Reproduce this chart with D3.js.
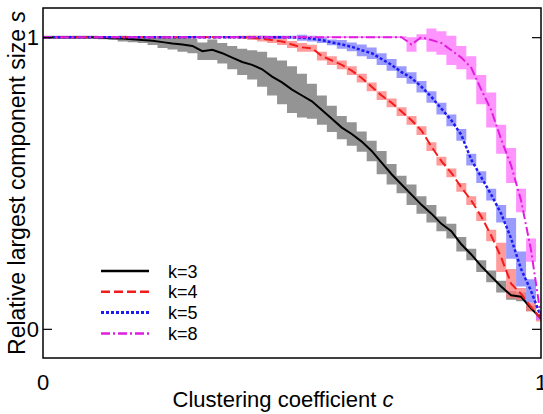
<!DOCTYPE html>
<html>
<head>
<meta charset="utf-8">
<script src="https://cdn.jsdelivr.net/npm/d3@7"></script>
<style>
  body { margin: 0; background: #fff; }
  svg { display: block; font-family: "Liberation Sans", Arial, sans-serif; }
</style>
</head>
<body>
<script>
// clustering coefficient samples
var cVals = [0,0.02,0.04,0.06,0.08,0.10,0.12,0.14,0.16,0.18,0.20,0.22,0.24,0.26,0.28,0.30,0.32,0.34,0.36,0.38,0.40,
  0.42,0.44,0.46,0.48,0.50,0.52,0.54,0.56,0.58,0.60,0.62,0.64,0.66,0.68,0.70,0.72,0.74,0.76,0.78,0.80,
  0.82,0.84,0.86,0.88,0.90,0.92,0.94,0.96,0.98,1.00];

// relative largest component size, mean per k
var k3 = [1,1,1,1,1,1,0.998,0.996,0.995,0.993,0.99,0.988,0.983,0.978,0.975,0.97,0.952,0.957,0.945,0.93,0.915,
  0.905,0.89,0.865,0.845,0.82,0.80,0.78,0.75,0.72,0.69,0.668,0.642,0.61,0.57,0.53,0.495,0.46,0.425,0.395,0.36,
  0.335,0.29,0.255,0.215,0.18,0.145,0.115,0.11,0.07,0.035];
var k4 = [1,1,1,1,1,1,1,1,1,1,1,1,1,1,1,1,1,1,1,1,1,
  0.998,0.995,0.99,0.985,0.975,0.965,0.962,0.935,0.92,0.905,0.885,0.86,0.83,0.80,0.775,0.745,0.715,0.68,0.625,0.575,
  0.535,0.485,0.44,0.385,0.32,0.245,0.155,0.12,0.075,0.035];
var k5 = [1,1,1,1,1,1,1,1,1,1,1,1,1,1,1,1,1,1,1,1,1,
  1,1,1,1,1,0.998,0.995,0.99,0.982,0.975,0.967,0.955,0.945,0.925,0.905,0.88,0.86,0.83,0.795,0.755,
  0.715,0.665,0.58,0.52,0.46,0.395,0.31,0.205,0.13,0.04];
var k8 = [1,1,1,1,1,1,1,1,1,1,1,1,1,1,1,1,1,1,1,1,1,
  1,1,1,1,1,1,1,1,1,1,1,1,1,1,1,1,0.975,1,0.99,0.98,
  0.955,0.93,0.895,0.82,0.75,0.65,0.56,0.44,0.27,0.04];

// half width of the shaded spread
var e3 = [0.005,0.005,0.005,0.005,0.005,0.005,0.005,0.005,0.01,0.01,0.01,0.015,0.02,0.02,0.025,0.025,0.03,0.035,0.035,0.04,0.045,
  0.05,0.06,0.065,0.075,0.08,0.075,0.06,0.05,0.045,0.04,0.04,0.035,0.035,0.04,0.035,0.03,0.035,0.03,0.03,0.025,
  0.025,0.025,0.02,0.02,0.02,0.02,0.015,0.015,0.01,0.005];
var e4 = [0.003,0.003,0.003,0.003,0.003,0.003,0.003,0.003,0.003,0.003,0.003,0.003,0.003,0.003,0.003,0.003,0.003,0.003,0.003,0.003,0.005,
  0.008,0.01,0.01,0.012,0.012,0.015,0.012,0.015,0.015,0.015,0.015,0.015,0.015,0.015,0.015,0.015,0.015,0.015,0.015,0.015,
  0.015,0.015,0.015,0.015,0.02,0.05,0.05,0.02,0.015,0.01];
var e5 = [0.003,0.003,0.003,0.003,0.003,0.003,0.003,0.003,0.003,0.003,0.003,0.003,0.003,0.003,0.003,0.003,0.003,0.003,0.003,0.003,0.003,
  0.003,0.005,0.005,0.005,0.005,0.01,0.01,0.01,0.01,0.015,0.015,0.02,0.02,0.02,0.02,0.02,0.02,0.02,0.02,0.02,
  0.02,0.02,0.02,0.02,0.02,0.03,0.07,0.06,0.04,0.01];
var e8 = [0.003,0.003,0.003,0.003,0.003,0.003,0.003,0.003,0.003,0.003,0.003,0.003,0.003,0.003,0.003,0.003,0.003,0.003,0.003,0.003,0.003,
  0.003,0.003,0.003,0.003,0.003,0.003,0.003,0.003,0.003,0.003,0.003,0.003,0.003,0.003,0.003,0.003,0.025,0.01,0.04,0.04,
  0.05,0.04,0.04,0.05,0.06,0.05,0.06,0.04,0.04,0.01];

var legendLabels = ["k=3", "k=4", "k=5", "k=8"];
var xTicks = [0, 1], yTicks = [0, 1];

var series = [
  {name: legendLabels[0], s: k3, e: e3, line: "#000", band: "#707070", dash: null, w: 2},
  {name: legendLabels[1], s: k4, e: e4, line: "#f21c1c", band: "#ff7a7a", dash: "9,4", w: 2},
  {name: legendLabels[2], s: k5, e: e5, line: "#1c1cf2", band: "#7a7aff", dash: "3,2", w: 2.5},
  {name: legendLabels[3], s: k8, e: e8, line: "#e01ee0", band: "#ff70ff", dash: "9,3,2,3", w: 2}
];

var W = 543, H = 414;
var margin = {left: 43, right: 2, top: 8, bottom: 56};

var svg = d3.select("body").append("svg").attr("width", W).attr("height", H);

var x = d3.scaleLinear().domain([0, 1]).range([margin.left, W - margin.right]);
var y = d3.scaleLinear().domain([-0.1, 1.1]).range([H - margin.bottom, margin.top]);

svg.append("clipPath").attr("id", "plotclip")
  .append("rect")
  .attr("x", x(0)).attr("y", y(1.1))
  .attr("width", x(1) - x(0)).attr("height", y(-0.1) - y(1.1));

var plot = svg.append("g").attr("clip-path", "url(#plotclip)");

var band = d3.area()
  .curve(d3.curveStep)
  .x(d => x(d.c))
  .y0(d => y(d.s - d.e))
  .y1(d => y(d.s + d.e));

var line = d3.line()
  .x(d => x(d.c))
  .y(d => y(d.s));

series.forEach(function(sr) {
  sr.pts = cVals.map((c, i) => ({c: c, s: sr.s[i], e: sr.e[i]}));
});

plot.selectAll("path.band").data(series).enter()
  .append("path")
  .attr("class", "band")
  .attr("d", d => band(d.pts))
  .attr("fill", d => d.band)
  .attr("fill-opacity", 0.75);

plot.selectAll("path.mean").data(series).enter()
  .append("path")
  .attr("class", "mean")
  .attr("d", d => line(d.pts))
  .attr("fill", "none")
  .attr("stroke", d => d.line)
  .attr("stroke-width", d => d.w)
  .attr("stroke-dasharray", d => d.dash);

// frame
svg.append("rect")
  .attr("x", x(0)).attr("y", y(1.1))
  .attr("width", x(1) - x(0)).attr("height", y(-0.1) - y(1.1))
  .attr("fill", "none").attr("stroke", "#000").attr("stroke-width", 1.5);

// inward ticks
var yLeft = d3.axisRight(y).tickValues(yTicks).tickSize(9).tickFormat("");
svg.append("g").attr("transform", "translate(" + x(0) + ",0)").call(yLeft)
  .call(g => g.select(".domain").remove());
var yRight = d3.axisLeft(y).tickValues(yTicks).tickSize(9).tickFormat("");
svg.append("g").attr("transform", "translate(" + x(1) + ",0)").call(yRight)
  .call(g => g.select(".domain").remove());
svg.selectAll(".tick line").attr("stroke", "#000").attr("stroke-width", 1.2);

// tick labels
svg.selectAll("text.ylab").data(yTicks).enter()
  .append("text")
  .attr("x", x(0) - 4).attr("y", d => y(d) + 8)
  .attr("text-anchor", "end").attr("font-size", 22)
  .text(d => d);
svg.selectAll("text.xlab").data(xTicks).enter()
  .append("text")
  .attr("x", d => x(d)).attr("y", y(-0.1) + 32)
  .attr("text-anchor", "middle").attr("font-size", 22)
  .text(d => d);

// axis titles
var xt = svg.append("text")
  .attr("x", 283).attr("y", 407)
  .attr("text-anchor", "middle").attr("font-size", 22);
xt.append("tspan").text("Clustering coefficient ");
xt.append("tspan").attr("font-style", "italic").text("c");

var yt = svg.append("text")
  .attr("transform", "translate(25," + 183 + ") rotate(-90)")
  .attr("text-anchor", "middle").attr("font-size", 23);
yt.append("tspan").text("Relative largest component size ");
yt.append("tspan").attr("font-style", "italic").text("s");

// legend
var legend = svg.append("g").selectAll("g").data(series).enter()
  .append("g")
  .attr("transform", (d, i) => "translate(101," + (271 + i * 20.8) + ")");
legend.append("line")
  .attr("x1", 0).attr("x2", 48)
  .attr("stroke", d => d.line)
  .attr("stroke-width", d => d.w + 0.5)
  .attr("stroke-dasharray", d => d.dash);
legend.append("text")
  .attr("x", 67).attr("y", 6.5)
  .attr("font-size", 18)
  .text(d => d.name);
</script>
</body>
</html>
